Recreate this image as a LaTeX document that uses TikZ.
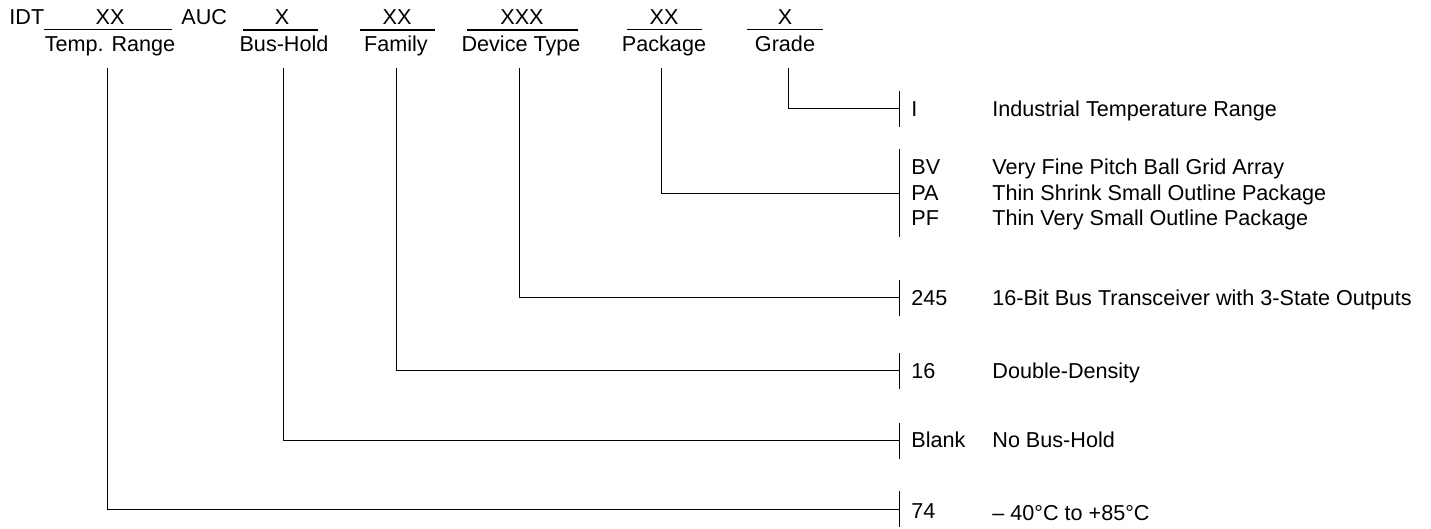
\documentclass[tikz,border=0pt]{standalone}
\usepackage{fontspec}
\setmainfont{Liberation Sans}
\usetikzlibrary{positioning,calc}

\tikzset{
    field/.style={anchor=base, inner sep=0pt},
    code/.style={anchor=base west, inner sep=0pt},
    desc/.style={anchor=base west, inner sep=0pt},
    wire/.style={line width=0.5pt},
    bar/.style={line width=0.5pt},
    heavybar/.style={line width=0.85pt}
}

\begin{document}
\begin{tikzpicture}[x=0.5pt, y=-0.5pt, font=\fontsize{10.8}{13}\selectfont]
    \useasboundingbox (0,0) rectangle (1431,529);

    % Part number fields
    \node[code] (idt) at (9,25) {IDT};
    \node[field] (xtemp) at (110,25) {XX};
    \node[code] (auc) at (181,25) {AUC};
    \node[field] (xhold) at (282,25) {X};
    \node[field] (xfam) at (397,25) {XX};
    \node[field] (xdev) at (522,25) {XXX};
    \node[field] (xpkg) at (664,25) {XX};
    \node[field] (xgrade) at (785,25) {X};

    \draw[bar] (44,30) -- (172,30);
    \draw[heavybar] (243,30) -- (318,30);
    \draw[heavybar] (360,30) -- (435,30);
    \draw[heavybar] (467,30) -- (578,30);
    \draw[bar] (627,30) -- (702,30);
    \draw[bar] (747,30) -- (823,30);

    \node[field] (temp) at (110,52) {Temp. Range};
    \node[field] (hold) at (284,52) {Bus-Hold};
    \node[field] (fam) at (396,52) {Family};
    \node[field] (dev) at (521,52) {Device Type};
    \node[field] (pkg) at (664,52) {Package};
    \node[field] (grade) at (785,52) {Grade};

    % Codes and meanings
    \node[code] (ci) at (911,117) {I};
    \node[desc] (di) at (992,117) {Industrial Temperature Range};
    \node[code] (cbv) at (911,175) {BV};
    \node[desc] (dbv) at (992,175) {Very Fine Pitch Ball Grid Array};
    \node[code] (cpa) at (911,201) {PA};
    \node[desc] (dpa) at (992,201) {Thin Shrink Small Outline Package};
    \node[code] (cpf) at (911,226) {PF};
    \node[desc] (dpf) at (992,226) {Thin Very Small Outline Package};
    \node[code] (c245) at (911,306) {245};
    \node[desc] (d245) at (992,306) {16-Bit Bus Transceiver with 3-State Outputs};
    \node[code] (c16) at (911,379) {16};
    \node[desc] (d16) at (992,379) {Double-Density};
    \node[code] (cblank) at (911,448) {Blank};
    \node[desc] (dblank) at (992,448) {No Bus-Hold};
    \node[code] (c74) at (911,518) {74};
    \node[desc] (d74) at (992,520) {-- 40\textdegree C to +85\textdegree C};

    % Leaders from fields to codes
    \foreach \name/\x/\y in {temp/107/509, hold/283/441, fam/396/371, dev/519/298, grade/788/109} {
        \coordinate (\name-top) at (\x,68);
        \coordinate (\name-end) at (899,\y);
        \draw[wire] (\name-top) |- (\name-end);
        \draw[wire] ($(\name-end)+(0,-18)$) -- ($(\name-end)+(0,18)$);
    }
    \coordinate (pkg-top) at (661,68);
    \coordinate (pkg-end) at (899,194);
    \draw[wire] (pkg-top) |- (pkg-end);
    \draw[wire] ($(pkg-end)+(0,-45)$) -- ($(pkg-end)+(0,43)$);

\end{tikzpicture}
\end{document}
